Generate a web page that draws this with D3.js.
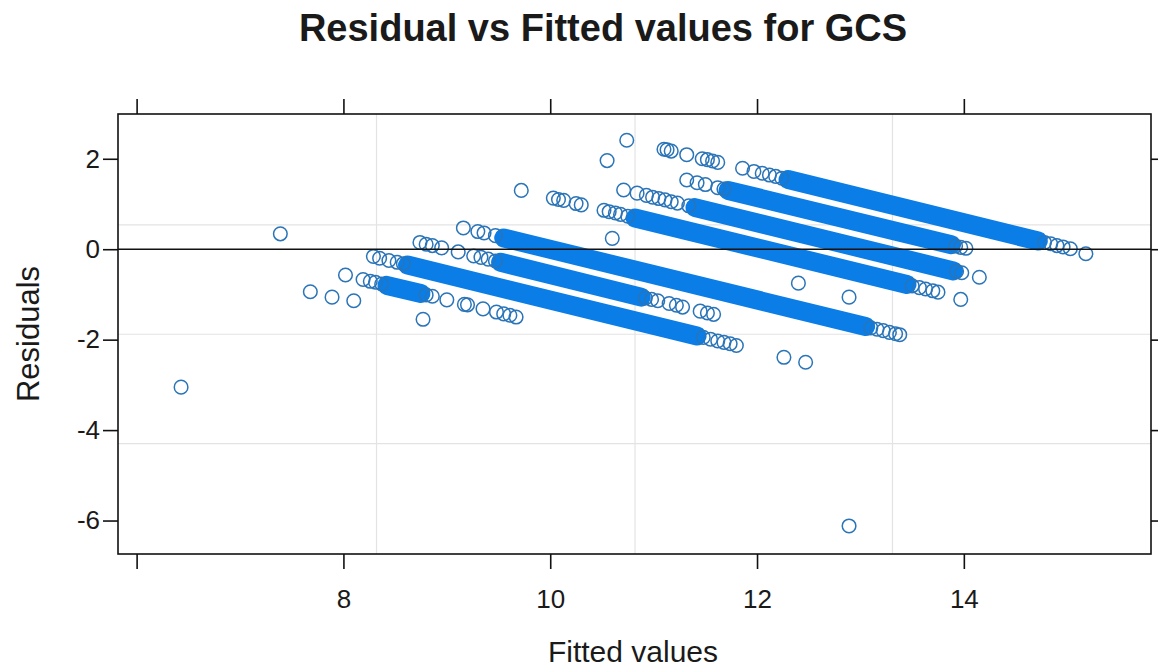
<!DOCTYPE html>
<html>
<head>
<meta charset="utf-8">
<script src="https://cdn.jsdelivr.net/npm/d3@7"></script>
<style>
  body { margin: 0; background: #fff; }
  text { font-family: "Liberation Sans", Arial, sans-serif; fill: #1a1a1a; }
</style>
</head>
<body>
<div id="chart"></div>
<script>
var xTicks = [6, 8, 10, 12, 14];
var xTickLabels = ["", "8", "10", "12", "14"];
var yTicks = [2, 0, -2, -4, -6];
var yTickLabels = ["2", "0", "-2", "-4", "-6"];
var xGrid = [8.32, 10.82, 13.31];
var yGrid = [0.54, -1.88, -4.30];

// dense runs of overlapping points, read as start / end of each run
var bandFitStart = [12.30, 11.72, 11.40, 10.82, 9.55, 9.52, 8.62, 8.42];
var bandResStart = [1.54, 1.30, 0.92, 0.69, 0.25, -0.29, -0.35, -0.80];
var bandFitEnd = [14.72, 13.88, 13.90, 13.45, 13.05, 10.88, 11.42, 8.75];
var bandResEnd = [0.18, 0.10, -0.48, -0.78, -1.71, -1.06, -1.92, -0.98];

// separate points
var fitted = [
  10.74, 11.10, 11.13, 11.17, 11.32, 11.47, 11.52, 11.57, 11.62, 11.86, 11.97, 12.05, 12.12, 12.18, 12.24, 14.78, 14.84, 14.90, 14.96, 15.03, 15.18,
  10.55, 11.32, 11.42, 11.50, 11.62, 11.68, 13.92, 13.97, 14.02,
  10.71, 10.84, 10.93, 10.99, 11.05, 11.11, 11.17, 11.23, 11.34, 13.93, 13.98, 14.15,
  9.72, 10.03, 10.08, 10.13, 10.25, 10.30, 10.52, 10.57, 10.63, 10.68, 10.75, 13.50, 13.57, 13.63, 13.70, 13.75, 13.97,
  10.60, 12.40, 12.89,
  9.16, 9.30, 9.36, 9.47, 13.10, 13.16, 13.22, 13.28, 13.34, 13.38,
  8.74, 8.80, 8.86, 8.95, 9.11, 9.26, 9.33, 9.40, 9.47, 10.92, 10.98, 11.04, 11.15, 11.22, 11.28, 11.45, 11.52, 11.58,
  7.39, 8.29, 8.35, 8.44, 8.52, 8.58, 11.48, 11.55, 11.62, 11.68, 11.74, 11.80, 12.26, 12.47,
  8.02, 8.19, 8.26, 8.31, 8.37, 8.80, 8.86, 9.00, 9.17, 9.20, 9.35, 9.48, 9.55, 9.61, 9.67,
  7.68, 7.89, 8.10, 8.77, 6.43, 12.89
];
var residuals = [
  2.41, 2.21, 2.20, 2.17, 2.09, 2.00, 1.98, 1.95, 1.92, 1.79, 1.72, 1.68, 1.64, 1.61, 1.57, 0.15, 0.12, 0.08, 0.05, 0.01, -0.10,
  1.96, 1.53, 1.47, 1.43, 1.36, 1.33, 0.07, 0.04, 0.02,
  1.31, 1.24, 1.19, 1.15, 1.12, 1.09, 1.05, 1.02, 0.96, -0.49, -0.52, -0.62,
  1.30, 1.13, 1.10, 1.08, 1.01, 0.98, 0.86, 0.83, 0.80, 0.77, 0.73, -0.81, -0.85, -0.88, -0.92, -0.95, -1.11,
  0.24, -0.75, -1.06,
  0.47, 0.39, 0.36, 0.30, -1.74, -1.77, -1.80, -1.84, -1.87, -1.89,
  0.15, 0.11, 0.08, 0.03, -0.06, -0.15, -0.18, -0.22, -0.26, -1.08, -1.11, -1.14, -1.20, -1.24, -1.28, -1.37, -1.41, -1.44,
  0.34, -0.16, -0.20, -0.25, -0.29, -0.32, -1.95, -1.99, -2.03, -2.06, -2.09, -2.13, -2.39, -2.50,
  -0.57, -0.67, -0.71, -0.73, -0.77, -1.01, -1.04, -1.12, -1.22, -1.23, -1.32, -1.39, -1.43, -1.46, -1.50,
  -0.94, -1.06, -1.14, -1.55, -3.05, -6.12
];

var svgWidth = 1158;
var svgHeight = 672;
var margin = { top: 114, right: 7, bottom: 118, left: 118 };
var width = svgWidth - margin.left - margin.right;
var height = svgHeight - margin.top - margin.bottom;
var blue = "#0a7de6";

var svg = d3.select("#chart")
  .append("svg")
  .attr("width", svgWidth)
  .attr("height", svgHeight);

svg.append("text")
  .attr("x", 603)
  .attr("y", 41)
  .attr("text-anchor", "middle")
  .attr("font-size", "38px")
  .attr("font-weight", "bold")
  .text("Residual vs Fitted values for GCS");

var chartGroup = svg.append("g")
  .attr("transform", `translate(${margin.left}, ${margin.top})`);

var xScale = d3.scaleLinear().domain([5.82, 15.81]).range([0, width]);
var yScale = d3.scaleLinear().domain([-6.74, 2.99]).range([height, 0]);

// reference grid
chartGroup.selectAll(".vgrid")
  .data(xGrid)
  .enter()
  .append("line")
  .attr("x1", d => xScale(d))
  .attr("x2", d => xScale(d))
  .attr("y1", 0)
  .attr("y2", height)
  .attr("stroke", "#e3e3e3")
  .attr("stroke-width", 1.2);

chartGroup.selectAll(".hgrid")
  .data(yGrid)
  .enter()
  .append("line")
  .attr("x1", 0)
  .attr("x2", width)
  .attr("y1", d => yScale(d))
  .attr("y2", d => yScale(d))
  .attr("stroke", "#e3e3e3")
  .attr("stroke-width", 1.2);

// axes with ticks on all four sides
var bottomAxis = d3.axisBottom(xScale).tickValues(xTicks)
  .tickSizeInner(15).tickSizeOuter(0).tickPadding(21)
  .tickFormat((d, i) => xTickLabels[i]);
var topAxis = d3.axisTop(xScale).tickValues(xTicks)
  .tickSizeInner(15).tickSizeOuter(0).tickFormat("");
var leftAxis = d3.axisLeft(yScale).tickValues(yTicks)
  .tickSizeInner(15).tickSizeOuter(0).tickPadding(3)
  .tickFormat((d, i) => yTickLabels[i]);
var rightAxis = d3.axisRight(yScale).tickValues(yTicks)
  .tickSizeInner(15).tickSizeOuter(0).tickFormat("");

var axes = [
  chartGroup.append("g").attr("transform", `translate(0, ${height})`).call(bottomAxis),
  chartGroup.append("g").call(topAxis),
  chartGroup.append("g").call(leftAxis),
  chartGroup.append("g").attr("transform", `translate(${width}, 0)`).call(rightAxis)
];
axes.forEach(function(ax) {
  ax.select(".domain").remove();
  ax.selectAll("line").attr("stroke", "#111").attr("stroke-width", 1.6);
  ax.selectAll("text")
    .attr("font-size", "26px")
    .attr("font-family", "'Liberation Sans', Arial, sans-serif")
    .attr("fill", "#1a1a1a");
});

// dense runs
var bands = bandFitStart.map(function(f, i) {
  return [[f, bandResStart[i]], [bandFitEnd[i], bandResEnd[i]]];
});
var bandLine = d3.line().x(d => xScale(d[0])).y(d => yScale(d[1]));

chartGroup.selectAll(".band")
  .data(bands)
  .enter()
  .append("path")
  .attr("d", bandLine)
  .attr("fill", "none")
  .attr("stroke", blue)
  .attr("stroke-width", 19)
  .attr("stroke-linecap", "round");

var points = fitted.map((f, i) => ({ fitted: f, residual: residuals[i] }));

chartGroup.selectAll("circle")
  .data(points)
  .enter()
  .append("circle")
  .attr("cx", d => xScale(d.fitted))
  .attr("cy", d => yScale(d.residual))
  .attr("r", 6.8)
  .attr("fill", "none")
  .attr("stroke", "#2a74b8")
  .attr("stroke-width", 1.5);

// zero line
chartGroup.append("line")
  .attr("x1", 0)
  .attr("x2", width)
  .attr("y1", yScale(0))
  .attr("y2", yScale(0))
  .attr("stroke", "#111")
  .attr("stroke-width", 1.6);

chartGroup.append("rect")
  .attr("width", width)
  .attr("height", height)
  .attr("fill", "none")
  .attr("stroke", "#111")
  .attr("stroke-width", 1.6);

svg.append("text")
  .attr("x", 633)
  .attr("y", 662)
  .attr("text-anchor", "middle")
  .attr("font-size", "30px")
  .text("Fitted values");

svg.append("text")
  .attr("transform", "translate(39, 334) rotate(-90)")
  .attr("text-anchor", "middle")
  .attr("font-size", "31px")
  .text("Residuals");
</script>
</body>
</html>
